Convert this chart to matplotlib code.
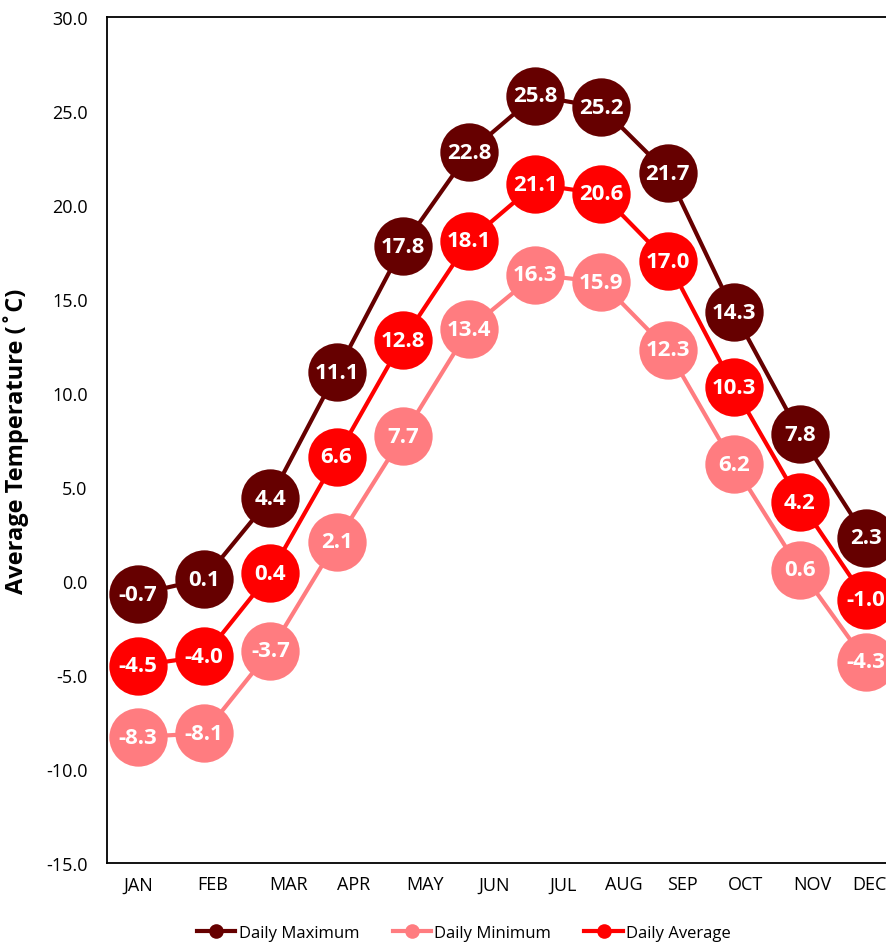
import matplotlib
matplotlib.use("Agg")
import matplotlib.pyplot as plt

months = ["JAN", "FEB", "MAR", "APR", "MAY", "JUN", "JUL", "AUG", "SEP", "OCT", "NOV", "DEC"]
daily_max = [-0.7, 0.1, 4.4, 11.1, 17.8, 22.8, 25.8, 25.2, 21.7, 14.3, 7.8, 2.3]
daily_min = [-8.3, -8.1, -3.7, 2.1, 7.7, 13.4, 16.3, 15.9, 12.3, 6.2, 0.6, -4.3]
daily_avg = [-4.5, -4.0, 0.4, 6.6, 12.8, 18.1, 21.1, 20.6, 17.0, 10.3, 4.2, -1.0]
y_ticks = [-15, -10, -5, 0, 5, 10, 15, 20, 25, 30]
# label placement offsets (as in the original, labels are slightly shifted)
label_pos = [0, 1.13, 2.27, 3.25, 4.34, 5.38, 6.42, 7.34, 8.23, 9.17, 10.18, 11.05]

plt.rcParams['font.family'] = ['Open Sans', 'DejaVu Sans']

fig = plt.figure(figsize=(8.87, 9.45), dpi=100)
ax = fig.add_axes([107/887, 1-864/945, 1-107/887, (864-18)/945])

x = list(range(len(months)))
series = [
    ("Daily Maximum", daily_max, "#660000"),
    ("Daily Minimum", daily_min, "#FF7C80"),
    ("Daily Average", daily_avg, "#FF0000"),
]
for i, (name, vals, col) in enumerate(series):
    ax.plot(x, vals, color=col, lw=3, marker="o", markersize=42,
            markeredgewidth=0, label=name, zorder=2 + i, clip_on=False)
    for xi, v in zip(x, vals):
        ax.text(xi, v, f"{v:.1f}", ha="center", va="center", color="white",
                fontsize=16, fontweight="bold", zorder=10 + i)

ax.set_xlim(-31/66.2, 749/66.2)
ax.set_ylim(-15, 30)
ax.set_yticks(y_ticks)
ax.set_yticklabels([f"{t:.1f}" for t in y_ticks], fontsize=13)
ax.set_xticks(label_pos)
ax.set_xticklabels(months, fontsize=13)
ax.tick_params(length=0, pad=9)
ax.tick_params(axis='y', pad=14)
ax.spines['right'].set_visible(False)
for s in ['left', 'top', 'bottom']:
    ax.spines[s].set_linewidth(1.3)
ax.set_ylabel("Average Temperature (˚C)", fontsize=17, fontweight="bold", labelpad=12)

handles, labels = ax.get_legend_handles_labels()
leg = fig.legend(handles, labels, loc="center", bbox_to_anchor=(464/887, 1-934/945),
                 ncol=3, frameon=False, fontsize=12, handlelength=2.3,
                 handletextpad=0.2, columnspacing=2.0, markerscale=0.25)

fig.savefig("out.png", dpi=100)
